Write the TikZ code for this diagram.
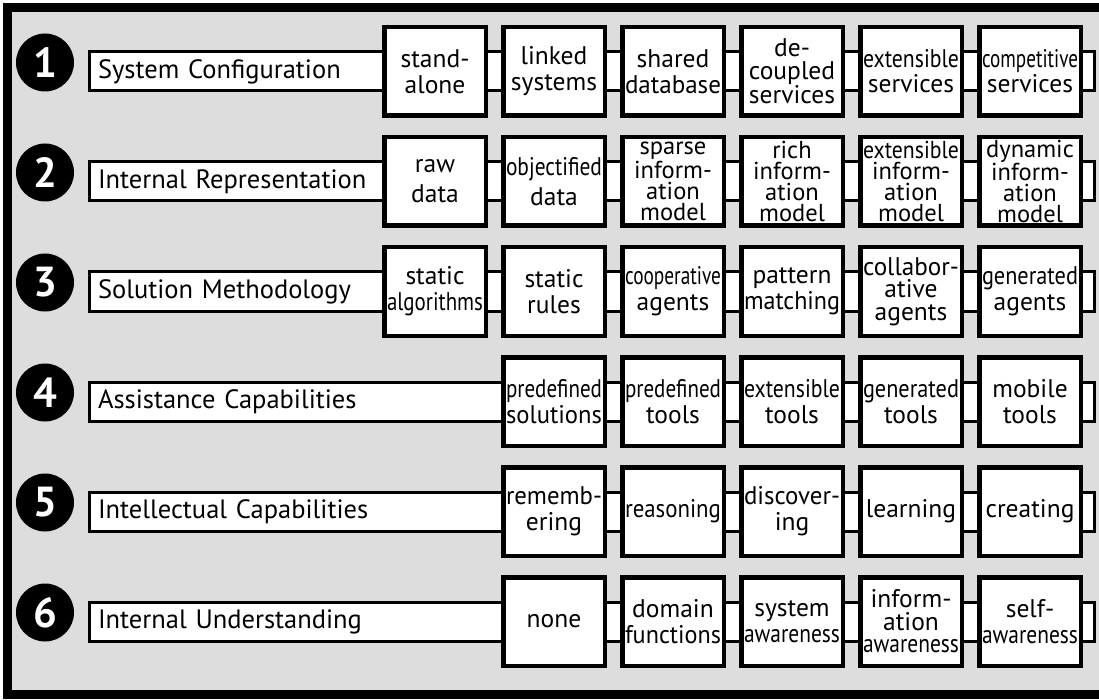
\documentclass[tikz,border=0pt]{standalone}
\usepackage{fontspec}
\setmainfont{PT Sans}
\usepackage{graphicx}
\usepackage{tikz}

\definecolor{panelgray}{RGB}{221,221,221}

% squeeze a word into the box if it is too wide
\newsavebox\sqbox
\newcommand\sq[1]{\sbox\sqbox{#1}\ifdim\wd\sqbox>96pt\resizebox{96pt}{\height}{\usebox\sqbox}\else\usebox\sqbox\fi}

\begin{document}
\begin{tikzpicture}[x=1pt, y=-1pt]
  \tikzstyle numdot=[circle, fill=black, minimum size=58pt, inner sep=0pt, text=white,
                     font=\fontsize{42}{42}\selectfont\bfseries];
  \tikzstyle labelbar=[draw=black, line width=3pt, fill=white, anchor=west, minimum height=39pt,
                       inner xsep=9pt, inner ysep=0pt, text width=987pt, align=left,
                       font=\fontsize{26.5}{28}\selectfont];
  \tikzstyle cell=[draw=black, line width=4.5pt, fill=white, minimum width=101.5pt,
                   minimum height=88.5pt, inner sep=0pt, text width=97pt, align=center];

  \useasboundingbox (0,0) rectangle (1099,700);
  \clip (0,0) rectangle (1099,700);
  \fill[white] (0,0) rectangle (1099,700);
  \draw[line width=9pt, fill=panelgray] (7.5,7.5) rectangle (1115,694.5);

  % row 1
  \node[numdot] (n1) at (45,62.5) {1};
  \node[labelbar] (bar1) at (87.5,71.5) {System Configuration};
  \foreach \txt/\bs [count=\k] in {{stand-\\alone}/26, {linked\\systems}/26, {shared\\\sq{database}}/26,
        {de-\\coupled\\services}/23, {\sq{extensible}\\services}/25, {\sq{competitive}\\services}/25}
    \node[cell, font=\fontsize{25.5}{\bs}\selectfont] (r1c\k) at ({435+119*(\k-1)},71.5) {\txt};

  % row 2
  \node[numdot] (n2) at (45,172.5) {2};
  \node[labelbar] (bar2) at (87.5,181.5) {Internal Representation};
  \foreach \txt/\fs/\bs [count=\k] in {{raw\\data}/25.5/30, {\sq{objectified}\\data}/25.5/30,
        {sparse\\inform-\\ation\\model}/24.5/21, {rich\\inform-\\ation\\model}/24.5/21,
        {\sq{extensible}\\inform-\\ation\\model}/24.5/21, {dynamic\\inform-\\ation\\model}/24.5/21}
    \node[cell, font=\fontsize{\fs}{\bs}\selectfont] (r2c\k) at ({435+119*(\k-1)},181.5) {\txt};

  % row 3
  \node[numdot] (n3) at (45,282.5) {3};
  \node[labelbar] (bar3) at (87.5,291.5) {Solution Methodology};
  \foreach \txt/\bs [count=\k] in {{static\\\sq{algorithms}}/26, {static\\rules}/26, {\sq{cooperative}\\agents}/26,
        {pattern\\\sq{matching}}/26, {\sq{collabor-}\\ative\\agents}/22.5, {\sq{generated}\\agents}/26}
    \node[cell, font=\fontsize{25.5}{\bs}\selectfont] (r3c\k) at ({435+119*(\k-1)},291.5) {\txt};

  % rows 4-6 start one box further right
  \node[numdot] (n4) at (45,392.5) {4};
  \node[labelbar] (bar4) at (87.5,401.5) {Assistance Capabilities};
  \foreach \txt/\bs [count=\k] in {{\sq{predefined}\\\sq{solutions}}/26, {\sq{predefined}\\tools}/26,
        {\sq{extensible}\\tools}/26, {\sq{generated}\\tools}/26, {mobile\\tools}/26}
    \node[cell, font=\fontsize{25.5}{\bs}\selectfont] (r4c\k) at ({435+119*\k},401.5) {\txt};

  \node[numdot] (n5) at (45,502.5) {5};
  \node[labelbar] (bar5) at (87.5,511.5) {Intellectual Capabilities};
  \foreach \txt/\bs [count=\k] in {{\sq{rememb-}\\ering}/26, {\sq{reasoning}}/26, {\sq{discover-}\\ing}/26,
        {learning}/26, {creating}/26}
    \node[cell, font=\fontsize{25.5}{\bs}\selectfont] (r5c\k) at ({435+119*\k},511.5) {\txt};

  \node[numdot] (n6) at (45,612.5) {6};
  \node[labelbar] (bar6) at (87.5,621.5) {Internal Understanding};
  \foreach \txt/\bs [count=\k] in {{none}/26, {domain\\\sq{functions}}/26, {system\\\sq{awareness}}/26,
        {inform-\\ation\\\sq{awareness}}/22.5, {self-\\\sq{awareness}}/26}
    \node[cell, font=\fontsize{25.5}{\bs}\selectfont] (r6c\k) at ({435+119*\k},621.5) {\txt};

\end{tikzpicture}
\end{document}
